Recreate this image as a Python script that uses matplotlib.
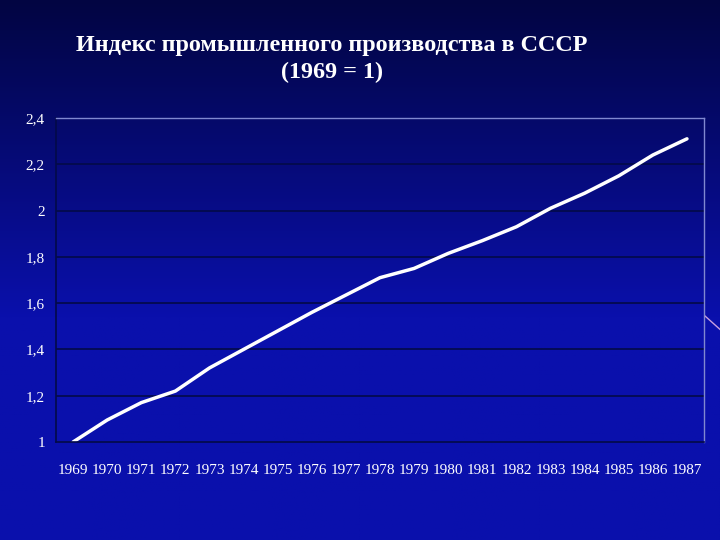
import numpy as np
import matplotlib
matplotlib.use('Agg')
import matplotlib.pyplot as plt

# данные
years = [str(y) for y in range(1969, 1988)]
index_values = [1.00, 1.095, 1.17, 1.22, 1.32, 1.40, 1.48, 1.56, 1.635, 1.71,
                1.75, 1.815, 1.87, 1.93, 2.01, 2.075, 2.15, 2.24, 2.31]
y_ticks = [1.0, 1.2, 1.4, 1.6, 1.8, 2.0, 2.2, 2.4]
y_tick_labels = ['1', '1,2', '1,4', '1,6', '1,8', '2', '2,2', '2,4']

plt.rcParams['font.family'] = ['Liberation Serif', 'DejaVu Serif']

fig = plt.figure(figsize=(7.2, 5.4), dpi=100)

# фон слайда - градиент
bg = fig.add_axes([0, 0, 1, 1], zorder=0)
top = np.array([2, 5, 66]) / 255
bottom = np.array([10, 16, 172]) / 255
t = np.linspace(0, 1, 256)[:, None]
grad = top + (bottom - top) * np.clip(t * 1.7, 0, 1)
grad = np.repeat(grad[:, None, :], 4, axis=1)
bg.imshow(grad, aspect='auto', extent=[0, 1, 0, 1], origin='upper')
bg.plot([0.979, 1.0], [0.415, 0.39], color='#c8a0e0', lw=1)
bg.set_xlim(0, 1)
bg.set_ylim(0, 1)
bg.axis('off')

ax = fig.add_axes([0.0778, 0.1815, 0.9, 0.6], zorder=1)
ax.patch.set_alpha(0)

x = np.arange(len(years))
ax.plot(x, index_values, color='white', lw=2.5, solid_joinstyle='round',
        solid_capstyle='round')

ax.set_xlim(-0.5, len(years) - 0.5)
ax.set_ylim(1.0, 2.4)
ax.set_yticks(y_ticks)
ax.set_yticklabels(y_tick_labels)
ax.set_xticks(x)
ax.set_xticklabels(years)

for v in y_ticks[1:-1]:
    ax.axhline(v, color='#030a48', lw=1.2, zorder=0)

ax.tick_params(axis='both', colors='white', labelsize=11, length=0)
ax.tick_params(axis='y', pad=8)
ax.tick_params(axis='x', pad=16)

for side in ['top', 'right']:
    ax.spines[side].set_color('#8088d0')
    ax.spines[side].set_linewidth(1)
for side in ['left', 'bottom']:
    ax.spines[side].set_color('#030a48')
    ax.spines[side].set_linewidth(1.2)

fig.text(0.461, 0.916, 'Индекс промышленного производства в СССР',
         color='white', fontsize=17.4, fontweight='bold', ha='center', va='center')
fig.text(0.461, 0.866, '(1969 = 1)', color='white', fontsize=17.4,
         fontweight='bold', ha='center', va='center')

fig.savefig('out.png', dpi=100)
